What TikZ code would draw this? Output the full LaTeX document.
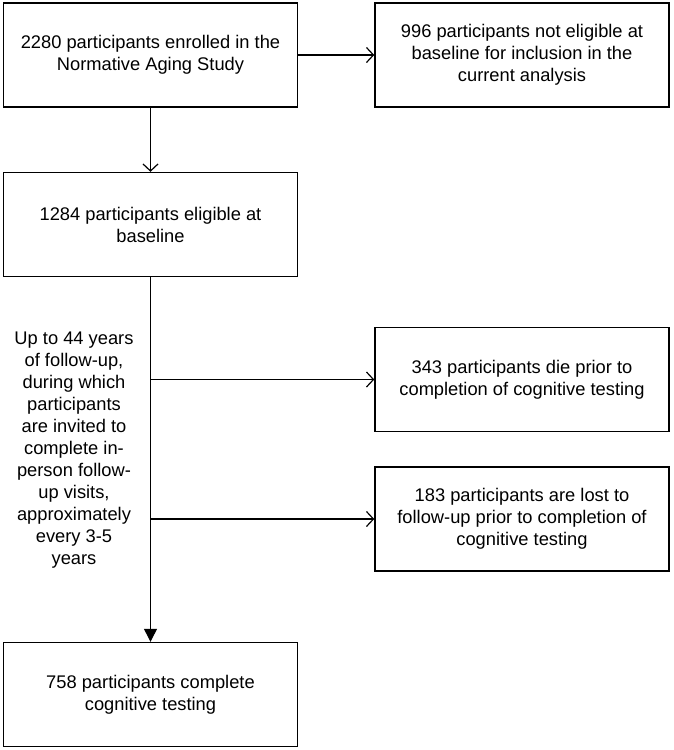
\documentclass[tikz,border=0pt]{standalone}
\usepackage{fontspec}
\setmainfont{Liberation Sans}
\usepackage{tikz}
\usetikzlibrary{arrows.meta, positioning, calc}
\tikzset{
  flowbox/.style={draw=black, fill=white, line width=1.4pt, align=center,
                  minimum width=294pt, minimum height=104pt, inner sep=2pt,
                  font=\fontsize{18.3}{22}\selectfont},
  arrow/.style={-{Straight Barb[length=7pt,width=15pt]}, line width=1.2pt},
  mainarrow/.style={-{Triangle[length=13pt,width=13pt]}, line width=1.2pt},
  sidenote/.style={align=center, inner sep=0pt, font=\fontsize{18.3}{22}\selectfont}
}
\begin{document}
\begin{tikzpicture}[x=1pt, y=-1pt]
    \useasboundingbox (0,0) rectangle (673,750);

    \node[flowbox] (enrolled) at (150.5,55) {2280 participants enrolled in the\\Normative Aging Study};
    \node[flowbox] (excluded) at (522,55) {996 participants not eligible at\\baseline for inclusion in the\\current analysis};

    \node[flowbox] (eligible) at (150.5,224.5) {1284 participants eligible at\\baseline};

    \node[flowbox] (died) at (522,379.5) {343 participants die prior to\\completion of cognitive testing};
    \node[flowbox] (lost) at (522,519) {183 participants are lost to\\follow-up prior to completion of\\cognitive testing};

    \node[flowbox] (complete) at (150.5,694.5) {758 participants complete\\cognitive testing};

    \node[sidenote] (followup) at (74,450) {Up to 44 years\\of follow-up,\\during which\\participants\\are invited to\\complete in-\\person follow-\\up visits,\\approximately\\every 3-5\\years};

    \coordinate (split1) at (eligible.south |- died.west);
    \coordinate (split2) at (eligible.south |- lost.west);

    \draw[arrow] (enrolled) -- (excluded);
    \draw[arrow] (enrolled) -- (eligible);
    \draw[mainarrow] (eligible) -- (complete);
    \draw[arrow] (split1) -- (died);
    \draw[arrow] (split2) -- (lost);
  \end{tikzpicture}
\end{document}
